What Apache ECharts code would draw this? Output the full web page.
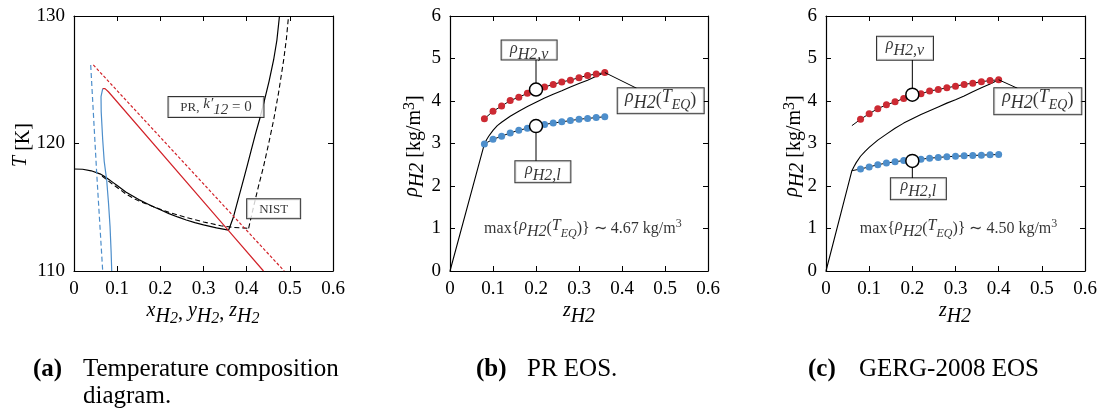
<!DOCTYPE html>
<html><head><meta charset="utf-8">
<script src="https://cdn.jsdelivr.net/npm/echarts@6/dist/echarts.min.js"></script>
<style>html,body{margin:0;padding:0;background:#fff}#c{width:1109px;height:420px}</style>
</head><body><div id="c"></div>
<script>
// ================= DATA =================
const xTicks = [0, 0.1, 0.2, 0.3, 0.4, 0.5, 0.6];
const tTicks = [110, 120, 130];
const rhoTicks = [0, 1, 2, 3, 4, 5, 6];

// (a) temperature–composition diagram, points [x_H2, T]
const aBlackSolidLow = [[0,118.0],[0.02,117.98],[0.04,117.86],[0.06,117.62],[0.07,117.43],[0.08,117.2],[0.09,116.95],[0.10,116.7],[0.11,116.45],[0.12,116.2],[0.135,115.9],[0.15,115.6],[0.165,115.35],[0.18,115.1],[0.20,114.8],[0.22,114.5],[0.24,114.24],[0.26,114.0],[0.28,113.8],[0.30,113.62],[0.33,113.38],[0.358,113.2]];
const aBlackSolidUp = [[0.358,113.2],[0.362,113.55],[0.3696,114.26],[0.377,115.2],[0.385,116.2],[0.393,117.2],[0.4007,118.18],[0.41,119.4],[0.42,120.7],[0.4316,122.1],[0.442,123.5],[0.452,124.9],[0.4624,126.55],[0.47,128.1],[0.476,130]];
const aBlackDashedLow = [[0.065,117.45],[0.08,117.05],[0.09,116.8],[0.10,116.55],[0.11,116.3],[0.12,116.05],[0.135,115.75],[0.15,115.5],[0.165,115.3],[0.18,115.1],[0.20,114.85],[0.22,114.6],[0.24,114.4],[0.26,114.2],[0.28,114.02],[0.30,113.85],[0.32,113.7],[0.34,113.55],[0.37,113.42],[0.4045,113.35]];
const aBlackDashedUp = [[0.4045,113.35],[0.416,115.04],[0.427,116.6],[0.439,118.18],[0.451,120.0],[0.4625,121.84],[0.474,124.0],[0.4857,126.55],[0.492,128.2],[0.497,130]];
const aBlueSolid = [[0.0665,124.3],[0.064,124.15],[0.0626,123.67],[0.063,122.5],[0.0665,120.3],[0.070,118.6],[0.0758,117.1],[0.080,115.3],[0.0835,113.5],[0.086,111.5],[0.0874,110]];
const aRedSolid = [[0.0665,124.3],[0.0719,124.3],[0.0797,124.06],[0.358,113.17],[0.439,110]];
const aBlueDashed = [[0.0387,126.16],[0.0526,117.66],[0.0665,110]];
const aRedDashed = [[0.0448,126.16],[0.487,110]];

// (b) PR EOS
const zB = [0.08,0.10,0.12,0.14,0.16,0.18,0.20,0.22,0.24,0.26,0.28,0.30,0.32,0.34,0.36];
const bVap = [3.58,3.76,3.88,4.01,4.09,4.18,4.26,4.33,4.39,4.45,4.49,4.55,4.60,4.635,4.67];
const bLiq = [2.99,3.10,3.17,3.25,3.31,3.36,3.41,3.45,3.48,3.51,3.54,3.57,3.59,3.61,3.63];
const bTeqZ = [0, 0.08, 0.085, 0.09, 0.10, 0.11, 0.12, 0.14, 0.16, 0.18, 0.20, 0.22, 0.24, 0.26, 0.28, 0.30, 0.32, 0.34, 0.36];
const bTeq =  [0, 2.99, 3.09, 3.17, 3.31, 3.42, 3.50, 3.64, 3.76, 3.87, 3.97, 4.07, 4.16, 4.24, 4.33, 4.41, 4.49, 4.58, 4.67];

// (c) GERG-2008 EOS
const zC = [0.08,0.10,0.12,0.14,0.16,0.18,0.20,0.22,0.24,0.26,0.28,0.30,0.32,0.34,0.36,0.38,0.40];
const cVap = [3.57,3.70,3.82,3.91,3.98,4.06,4.12,4.17,4.235,4.27,4.31,4.35,4.39,4.42,4.455,4.48,4.50];
const cLiq = [2.40,2.45,2.50,2.54,2.57,2.60,2.61,2.63,2.655,2.67,2.69,2.70,2.71,2.72,2.725,2.735,2.74];
const cVapStart = [0.06, 3.42];
const cLiqStart = [0.06, 2.36];
const cTeqZ = [0, 0.06, 0.065, 0.07, 0.08, 0.09, 0.10, 0.12, 0.14, 0.16, 0.18, 0.20, 0.22, 0.24, 0.26, 0.28, 0.30, 0.32, 0.34, 0.36, 0.38, 0.40];
const cTeq =  [0, 2.36, 2.46, 2.55, 2.70, 2.81, 2.91, 3.08, 3.22, 3.36, 3.48, 3.58, 3.68, 3.77, 3.86, 3.95, 4.03, 4.12, 4.22, 4.31, 4.40, 4.50];

const bMax = '4.67', cMax = '4.50';

// ================= STYLE =================
const SERIF = 'Liberation Serif';
const RED = '#cc2a33', BLUE = '#4d8ecb';
const pair = (xs, ys) => xs.map((x, i) => [x, ys[i]]);

const grids = [
  {left: 74, top: 16, width: 259, height: 255},
  {left: 450, top: 16, width: 258, height: 255},
  {left: 826, top: 16, width: 259, height: 255}
];
const axLine = {show: true, onZero: false, lineStyle: {color: '#000', width: 1.2}};
const axTick = {show: true, inside: true, length: 5, lineStyle: {color: '#000', width: 1}};
const lblFmt = v => (v === 0 ? '0' : (Math.abs(v) < 1 ? v.toFixed(1) : String(Math.round(v))));

const xAxis = [], yAxis = [];
grids.forEach((g, i) => {
  xAxis.push({type: 'value', gridIndex: i, position: 'bottom', min: xTicks[0], max: xTicks[xTicks.length-1], interval: 0.1,
    axisLine: axLine, axisTick: axTick, splitLine: {show: false},
    axisLabel: {color: '#000', fontFamily: SERIF, fontSize: 19, margin: 9, formatter: lblFmt}});
  xAxis.push({type: 'value', gridIndex: i, position: 'top', min: xTicks[0], max: xTicks[xTicks.length-1], interval: 0.1,
    axisLine: axLine, axisTick: axTick, splitLine: {show: false}, axisLabel: {show: false}});
  const yt = i === 0 ? tTicks : rhoTicks;
  const yint = i === 0 ? 10 : 1;
  yAxis.push({type: 'value', gridIndex: i, position: 'left', min: yt[0], max: yt[yt.length-1], interval: yint,
    axisLine: axLine, axisTick: axTick, splitLine: {show: false},
    axisLabel: {color: '#000', fontFamily: SERIF, fontSize: 19, margin: 9}});
  yAxis.push({type: 'value', gridIndex: i, position: 'right', min: yt[0], max: yt[yt.length-1], interval: yint,
    axisLine: axLine, axisTick: axTick, splitLine: {show: false}, axisLabel: {show: false}});
});

function ln(p, data, color, width, type, z) {
  return {type: 'line', xAxisIndex: p*2, yAxisIndex: p*2, data, symbol: 'none', showSymbol: false,
    lineStyle: {color, width, type: type || 'solid', join: 'round'}, silent: true, animation: false, z: z || 2};
}
function dots(p, data, color) {
  return {type: 'line', xAxisIndex: p*2, yAxisIndex: p*2, data, symbol: 'circle', symbolSize: 7, showSymbol: true,
    itemStyle: {color, borderWidth: 0}, lineStyle: {color: '#000', width: 1}, silent: true, animation: false, z: 3};
}
function openCircle(p, pt) {
  return {type: 'scatter', xAxisIndex: p*2, yAxisIndex: p*2, data: [pt], symbol: 'circle', symbolSize: 13,
    itemStyle: {color: '#fff', borderColor: '#000', borderWidth: 1.5, opacity: 1}, silent: true, animation: false, z: 5};
}
const mathRich = (fs) => ({
  r: {fontFamily: SERIF, fontStyle: 'italic', fontSize: fs, lineHeight: fs + 6, color: '#000', verticalAlign: 'top'},
  s: {fontFamily: SERIF, fontStyle: 'italic', fontSize: fs, lineHeight: fs, color: '#000', verticalAlign: 'bottom'},
  ss: {fontFamily: SERIF, fontStyle: 'italic', fontSize: fs - 4, lineHeight: fs - 4, color: '#000', verticalAlign: 'bottom'},
  n: {fontFamily: SERIF, fontSize: fs, lineHeight: fs + 6, color: '#000'},
  sc: {fontFamily: SERIF, fontSize: fs - 2, lineHeight: fs + 6, color: '#000'},
  sup: {fontFamily: SERIF, fontSize: fs - 4, lineHeight: fs - 4, color: '#000', verticalAlign: 'top'}
});
function box(p, pt, text, fs, w, h) {
  return {type: 'scatter', xAxisIndex: p*2, yAxisIndex: p*2, data: [pt], symbolSize: 1,
    itemStyle: {color: 'rgba(0,0,0,0)'}, silent: true, animation: false, z: 10,
    label: {show: true, position: 'inside', formatter: text, width: w, height: h, align: 'center', verticalAlign: 'middle',
      backgroundColor: '#fff', borderColor: '#000', borderWidth: 1, padding: [0, 0, 0, 0],
      fontFamily: SERIF, fontSize: fs, color: '#000', rich: mathRich(fs)}};
}
function note(p, pt, text, fs) {
  return {type: 'scatter', xAxisIndex: p*2, yAxisIndex: p*2, data: [pt], symbolSize: 1,
    itemStyle: {color: 'rgba(0,0,0,0)'}, silent: true, animation: false, z: 10,
    label: {show: true, position: 'inside', formatter: text, fontFamily: SERIF, fontSize: fs, color: '#000', rich: mathRich(fs)}};
}

const series = [
  // (a)
  ln(0, aBlackSolidLow, '#000', 1.2),
  ln(0, aBlackSolidUp, '#000', 1.2),
  ln(0, aBlackDashedLow, '#000', 1.1, [5, 3]),
  ln(0, aBlackDashedUp, '#000', 1.1, [5, 3]),
  ln(0, aBlueSolid, BLUE, 1.2),
  ln(0, aRedSolid, '#d2232a', 1.2),
  ln(0, aBlueDashed, BLUE, 1.2, [5, 3]),
  ln(0, aRedDashed, '#d2232a', 1.2, [3, 2]),
  box(0, [0.329, 122.86], '{sc|PR,} {r|k′}{s|12}{n| = 0}', 15, 95, 20),
  box(0, [0.4625, 114.89], '{sc|NIST}', 15, 53, 19),
  // (b)
  ln(1, pair(bTeqZ, bTeq), '#000', 1.1),
  dots(1, pair(zB, bVap), RED),
  dots(1, pair(zB, bLiq), BLUE),
  ln(1, [[0.2, 4.27], [0.2, 4.98]], '#000', 1, 'solid', 4),
  ln(1, [[0.2, 3.41], [0.2, 2.59]], '#000', 1, 'solid', 4),
  ln(1, [[0.36, 4.67], [0.434, 4.30]], '#000', 1, 'solid', 4),
  openCircle(1, [0.2, 4.27]),
  openCircle(1, [0.2, 3.41]),
  box(1, [0.184, 5.2], '{r|ρ}{s|H2,v}', 16, 55, 19),
  box(1, [0.216, 2.334], '{r|ρ}{s|H2,l}', 16, 55, 21),
  box(1, [0.49, 4.005], '{r|ρ}{s|H2}{n|(}{r|T}{ss|EQ}{n|)}', 18, 86, 25),
  note(1, [0.309, 0.99], '{n|max{}{r|ρ}{s|H2}{n|(}{r|T}{ss|EQ}{n|)}} ∼ ' + bMax + ' kg/m{sup|3}', 16),
  // (c)
  ln(2, pair(cTeqZ, cTeq), '#000', 1.1),
  dots(2, [{value: cVapStart, symbol: 'none'}].concat(pair(zC, cVap)), RED),
  dots(2, [{value: cLiqStart, symbol: 'none'}].concat(pair(zC, cLiq)), BLUE),
  ln(2, [[0.2, 4.15], [0.2, 4.965]], '#000', 1, 'solid', 4),
  ln(2, [[0.2, 2.59], [0.2, 2.18]], '#000', 1, 'solid', 4),
  ln(2, [[0.40, 4.50], [0.4435, 4.30]], '#000', 1, 'solid', 4),
  openCircle(2, [0.2, 4.15]),
  openCircle(2, [0.2, 2.59]),
  box(2, [0.183, 5.24], '{r|ρ}{s|H2,v}', 16, 56, 23),
  box(2, [0.214, 1.937], '{r|ρ}{s|H2,l}', 16, 55, 21),
  box(2, [0.4907, 3.995], '{r|ρ}{s|H2}{n|(}{r|T}{ss|EQ}{n|)}', 18, 87, 26),
  note(2, [0.307, 0.99], '{n|max{}{r|ρ}{s|H2}{n|(}{r|T}{ss|EQ}{n|)}} ∼ ' + cMax + ' kg/m{sup|3}', 16)
];

// axis names and captions
const nameRich = mathRich(20);
function txt(x, y, text, opts) {
  return Object.assign({type: 'text', x, y, silent: true,
    style: {text, fill: '#000', font: '20px "' + SERIF + '"', align: 'center', verticalAlign: 'middle', rich: nameRich}}, opts || {});
}
const CAP = '25px "' + SERIF + '"', CAPB = 'bold 25px "' + SERIF + '"';
const graphic = [
  txt(23.5, 145, '{r|T} {n|[K]}', {rotation: Math.PI/2}),
  txt(415, 146, '{r|ρ}{s|H2} {n|[kg/m}{sup|3}{n|]}', {rotation: Math.PI/2}),
  txt(795, 146, '{r|ρ}{s|H2} {n|[kg/m}{sup|3}{n|]}', {rotation: Math.PI/2}),
  txt(203, 314, '{r|x}{s|H}{ss|2}{n|, }{r|y}{s|H}{ss|2}{n|, }{r|z}{s|H}{ss|2}'),
  txt(579, 314, '{r|z}{s|H2}'),
  txt(955, 314, '{r|z}{s|H2}'),
  {type: 'text', left: 33, top: 357, silent: true, style: {text: '(a)', fill: '#000', font: CAPB}},
  {type: 'text', left: 83, top: 357, silent: true, style: {text: 'Temperature composition', fill: '#000', font: CAP}},
  {type: 'text', left: 83, top: 384, silent: true, style: {text: 'diagram.', fill: '#000', font: CAP}},
  {type: 'text', left: 476, top: 357, silent: true, style: {text: '(b)', fill: '#000', font: CAPB}},
  {type: 'text', left: 527, top: 357, silent: true, style: {text: 'PR EOS.', fill: '#000', font: CAP}},
  {type: 'text', left: 808, top: 357, silent: true, style: {text: '(c)', fill: '#000', font: CAPB}},
  {type: 'text', left: 859, top: 357, silent: true, style: {text: 'GERG-2008 EOS', fill: '#000', font: CAP}}
];

const chart = echarts.init(document.getElementById('c'), null, {renderer: 'canvas'});
chart.setOption({animation: false, backgroundColor: '#fff', grid: grids, xAxis, yAxis, series, graphic});
</script></body></html>
